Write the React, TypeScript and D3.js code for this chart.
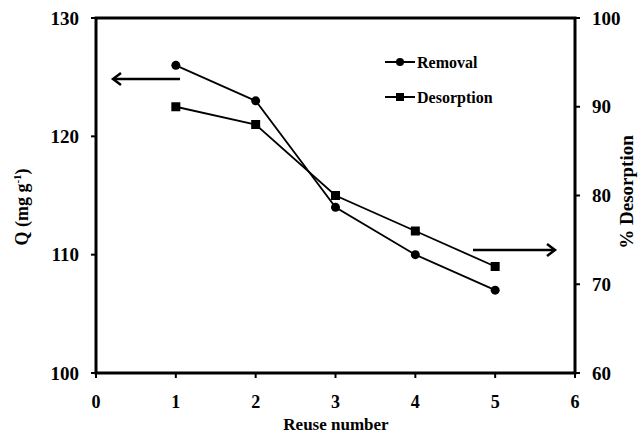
import React from "react";
import * as d3 from "d3";

const reuse = [1, 2, 3, 4, 5];
const removal = [126, 123, 114, 110, 107];
const desorption = [90, 88, 80, 76, 72];
const xTicks = [0, 1, 2, 3, 4, 5, 6];
const leftTicks = [100, 110, 120, 130];
const rightTicks = [60, 70, 80, 90, 100];

const W = 640, H = 435;
const L = 96, R = 575, T = 18, B = 373;
const FONT = "'Liberation Serif', 'Times New Roman', serif";

export default function App() {
  const x = d3.scaleLinear().domain([0, 6]).range([L, R]);
  const yL = d3.scaleLinear().domain([100, 130]).range([B, T]);
  const yR = d3.scaleLinear().domain([60, 100]).range([B, T]);

  const lineRem = d3.line<number>().x((_, i) => x(reuse[i])).y((d) => yL(d))(removal) || "";
  const lineDes = d3.line<number>().x((_, i) => x(reuse[i])).y((d) => yR(d))(desorption) || "";

  const arrowHead = (tx: number, ty: number, dir: number) =>
    `M${tx + dir * -8},${ty - 6} L${tx},${ty} L${tx + dir * -8},${ty + 6}`;

  return (
    <svg width={W} height={H} style={{ position: "absolute", left: 0, top: 0, background: "#fff" }}>
      <rect x={0} y={0} width={W} height={H} fill="#fff" />
      <rect x={L} y={T} width={R - L} height={B - T} fill="none" stroke="#000" strokeWidth={3} />
      {xTicks.map((t) => (
        <g key={"x" + t}>
          <line x1={x(t)} x2={x(t)} y1={B} y2={B + 5} stroke="#000" strokeWidth={2} />
          <text x={x(t)} y={408} textAnchor="middle" fontFamily={FONT} fontWeight="bold" fontSize={18}>
            {t}
          </text>
        </g>
      ))}
      {leftTicks.map((t) => (
        <g key={"l" + t}>
          <line x1={L - 5} x2={L} y1={yL(t)} y2={yL(t)} stroke="#000" strokeWidth={2} />
          <text x={79} y={yL(t)} dy="0.35em" textAnchor="end" fontFamily={FONT} fontWeight="bold" fontSize={19}>
            {t}
          </text>
        </g>
      ))}
      {rightTicks.map((t) => (
        <g key={"r" + t}>
          <line x1={R} x2={R + 5} y1={yR(t)} y2={yR(t)} stroke="#000" strokeWidth={2} />
          <text x={592} y={yR(t)} dy="0.35em" textAnchor="start" fontFamily={FONT} fontWeight="bold" fontSize={19}>
            {t}
          </text>
        </g>
      ))}
      <path d={lineRem} fill="none" stroke="#000" strokeWidth={1.8} />
      <path d={lineDes} fill="none" stroke="#000" strokeWidth={1.8} />
      {removal.map((v, i) => (
        <circle key={"c" + i} cx={x(reuse[i])} cy={yL(v)} r={4.5} fill="#000" />
      ))}
      {desorption.map((v, i) => (
        <rect key={"s" + i} x={x(reuse[i]) - 4.5} y={yR(v) - 4.5} width={9} height={9} fill="#000" />
      ))}
      <line x1={180} x2={114} y1={79} y2={79} stroke="#000" strokeWidth={2.5} />
      <path d={arrowHead(113, 79, -1)} fill="none" stroke="#000" strokeWidth={2.5} />
      <line x1={473} x2={554} y1={250} y2={250} stroke="#000" strokeWidth={2.5} />
      <path d={arrowHead(555, 250, 1)} fill="none" stroke="#000" strokeWidth={2.5} />
      <line x1={385} x2={415} y1={62} y2={62} stroke="#000" strokeWidth={2} />
      <circle cx={400} cy={62} r={4} fill="#000" />
      <text x={417} y={62} dy="0.35em" fontFamily={FONT} fontWeight="bold" fontSize={16}>Removal</text>
      <line x1={385} x2={415} y1={97} y2={97} stroke="#000" strokeWidth={2} />
      <rect x={396} y={93} width={8} height={8} fill="#000" />
      <text x={417} y={97} dy="0.35em" fontFamily={FONT} fontWeight="bold" fontSize={16}>Desorption</text>
      <text x={336} y={430} textAnchor="middle" fontFamily={FONT} fontWeight="bold" fontSize={17}>Reuse number</text>
      <text transform={`translate(28,207) rotate(-90)`} textAnchor="middle" fontFamily={FONT} fontWeight="bold" fontSize={18}>
        Q (mg g<tspan dy="-7" fontSize={11}>-1</tspan><tspan dy="7">)</tspan>
      </text>
      <text transform={`translate(633,192) rotate(-90)`} textAnchor="middle" fontFamily={FONT} fontWeight="bold" fontSize={19}>
        % Desorption
      </text>
    </svg>
  );
}
